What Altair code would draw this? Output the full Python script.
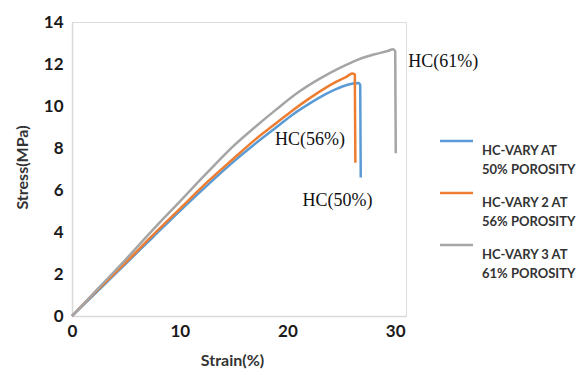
import altair as alt
import pandas as pd

# Stress-strain curves
strain_50 = [0, 2.5, 5, 7.5, 10, 12.5, 15, 17, 19, 20.5, 22, 23.5, 24.5, 25.5, 26.2, 26.6, 26.75, 26.8]
stress_50 = [0, 1.25, 2.5, 3.75, 5.0, 6.2, 7.35, 8.2, 9.0, 9.6, 10.1, 10.55, 10.8, 11.0, 11.08, 11.1, 11.0, 6.6]

strain_56 = [0, 2.5, 5, 7.5, 10, 12.5, 15, 17, 19, 20.5, 22, 23.5, 24.5, 25.5, 26.0, 26.25, 26.3]
stress_56 = [0, 1.3, 2.55, 3.85, 5.1, 6.35, 7.5, 8.4, 9.2, 9.8, 10.35, 10.85, 11.15, 11.4, 11.55, 11.5, 7.3]

strain_61 = [0, 2.5, 5, 7.5, 10, 12.5, 15, 17, 19, 21, 23, 25, 26.5, 28, 29.3, 29.8, 30.0, 30.05]
stress_61 = [0, 1.35, 2.7, 4.1, 5.45, 6.8, 8.1, 9.0, 9.85, 10.65, 11.3, 11.85, 12.2, 12.45, 12.62, 12.7, 12.6, 7.75]

series_names = ["HC-VARY AT 50% POROSITY", "HC-VARY 2 AT 56% POROSITY", "HC-VARY 3 AT 61% POROSITY"]
series_colors = ["#5b9bd5", "#ed7d31", "#a5a5a5"]
legend_lines = [["HC-VARY AT", "50% POROSITY"], ["HC-VARY 2 AT", "56% POROSITY"], ["HC-VARY 3 AT", "61% POROSITY"]]

annot_text = ["HC(61%)", "HC(56%)", "HC(50%)"]
annot_x = [31.2, 18.85, 21.4]
annot_y = [12.1, 8.4, 5.5]

x_ticks = [0, 10, 20, 30]
y_ticks = [0, 2, 4, 6, 8, 10, 12, 14]

rows = []
for name, xs, ys in zip(series_names,
                        [strain_50, strain_56, strain_61],
                        [stress_50, stress_56, stress_61]):
    for i, (x, y) in enumerate(zip(xs, ys)):
        rows.append({"series": name, "strain": x, "stress": y, "order": i})
df = pd.DataFrame(rows)
annot_df = pd.DataFrame({"text": annot_text, "strain": annot_x, "stress": annot_y})

x_scale = alt.Scale(domain=[0, 31], nice=False)
y_scale = alt.Scale(domain=[0, 14], nice=False)

lines = alt.Chart(df).mark_line(strokeWidth=2.5, interpolate="monotone").encode(
    x=alt.X("strain:Q", scale=x_scale,
            axis=alt.Axis(title="Strain(%)", values=x_ticks, grid=False, ticks=False,
                          domainColor="#d9d9d9", domainWidth=1.5,
                          labelFont="Lato", labelFontSize=17, labelFontWeight="bold",
                          labelColor="#1a1a1a", labelPadding=7, labelFlush=False,
                          titleFont="Lato", titleFontSize=16, titleFontWeight="bold",
                          titleColor="#333333", titleX=160, titleY=44, titleBaseline="middle")),
    y=alt.Y("stress:Q", scale=y_scale,
            axis=alt.Axis(title="Stress(MPa)", values=y_ticks, grid=False, ticks=False,
                          domainColor="#d9d9d9", domainWidth=1.5,
                          labelFont="Lato", labelFontSize=17, labelFontWeight="bold",
                          labelColor="#1a1a1a", labelPadding=9, labelFlush=False,
                          titleFont="Lato", titleFontSize=16, titleFontWeight="bold",
                          titleColor="#333333", titleX=-50, titleY=145, titleAngle=-90,
                          titleAlign="center", titleBaseline="middle")),
    color=alt.Color("series:N", scale=alt.Scale(domain=series_names, range=series_colors), legend=None),
    order="order:Q",
    detail="series:N",
)

annots = alt.Chart(annot_df).mark_text(
    font="Liberation Serif", fontSize=18, align="left", baseline="middle", color="#111111"
).encode(x=alt.X("strain:Q", scale=x_scale), y=alt.Y("stress:Q", scale=y_scale), text="text:N")

# manual legend
legend_layers = []
leg_y = [119, 171, 223]
for name, col, txt, ly in zip(series_names, series_colors, legend_lines, leg_y):
    legend_layers.append(
        alt.Chart(pd.DataFrame({"s": [name]})).mark_rule(strokeWidth=2.5, color=col).encode(
            x=alt.value(368), x2=alt.value(401), y=alt.value(ly))
    )
    legend_layers.append(
        alt.Chart(pd.DataFrame({"s": [name]})).mark_text(
            font="Lato", fontSize=13, fontWeight="bold", align="left", baseline="middle",
            lineHeight=19, color="#333333", text=txt
        ).encode(x=alt.value(410), y=alt.value(ly + 9.5))
    )

chart = alt.layer(lines, annots, *legend_layers).properties(
    width=334, height=294,
    autosize=alt.AutoSizeParams(type="none"),
    padding={"left": 72, "top": 22, "right": 174, "bottom": 59},
).configure_view(stroke=None).configure(background="white")

chart.save("out.html", embed_options={"renderer": "svg", "actions": False})
